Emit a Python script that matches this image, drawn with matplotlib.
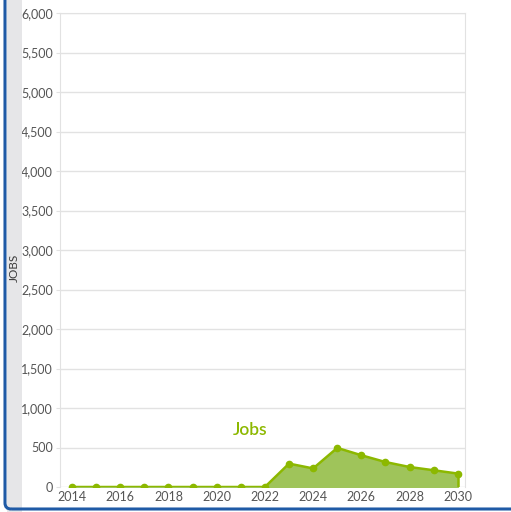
import matplotlib.pyplot as plt
from matplotlib.patches import FancyBboxPatch, Rectangle
from matplotlib.ticker import FuncFormatter

plt.rcParams['font.family'] = ['Lato', 'DejaVu Sans']

# data
years = [2014, 2015, 2016, 2017, 2018, 2019, 2020, 2021, 2022,
         2023, 2024, 2025, 2026, 2027, 2028, 2029, 2030]
jobs = [0, 0, 0, 0, 0, 0, 0, 0, 0,
        296, 235, 495, 402, 316, 253, 212, 170]
x_ticks = [2014, 2016, 2018, 2020, 2022, 2024, 2026, 2028, 2030]
y_ticks = list(range(0, 6001, 500))

green = '#8cb800'
fill_green = '#9fc45a'

fig = plt.figure(figsize=(5.11, 5.12), dpi=100)

# card frame and side band
W, H = 511, 512
fig.patches.append(Rectangle((7 / W, 0), 15 / W, 1, transform=fig.transFigure,
                             facecolor='#e6e6e8', edgecolor='none', zorder=0))
fig.patches.append(FancyBboxPatch((5 / W, 3 / H), 1.2, 1.2, transform=fig.transFigure,
                                  boxstyle='round,pad=0,rounding_size=0.012',
                                  facecolor='none', edgecolor='#1f5aa6', linewidth=2.2,
                                  zorder=1))
fig.text(14 / W, 244 / H, 'JOBS', rotation=90, ha='center', va='center',
         fontsize=8.5, color='#3a3a3a')

ax = fig.add_axes([60 / W, 25 / H, 405 / W, 474 / H])
ax.fill_between(years, jobs, 0, color=fill_green, zorder=2)
ax.plot(years, jobs, color=green, linewidth=1.8, marker='o', markersize=4.5, zorder=3)
ax.plot([years[-1], years[-1]], [0, jobs[-1]], color=green, linewidth=1.8, zorder=3)

ax.set_xlim(2013.5, 2030.3)
ax.set_ylim(0, 6000)
ax.set_xticks(x_ticks)
ax.set_yticks(y_ticks)
ax.yaxis.set_major_formatter(FuncFormatter(lambda v, p: f'{int(v):,}'))
ax.grid(axis='y', color='#e2e2e2', linewidth=1, zorder=0)
for s in ['left', 'right', 'top']:
    ax.spines[s].set_color('#e2e2e2')
ax.spines['bottom'].set_visible(False)
ax.tick_params(axis='y', length=3, color='#e2e2e2', labelsize=9, labelcolor='#555555', pad=2)
ax.tick_params(axis='x', length=0, labelsize=9, labelcolor='#555555', pad=3)

ax.text(2021.4, 720, 'Jobs', color=green, fontsize=12.5, fontweight='semibold',
        ha='center', va='center')

fig.savefig('out.png', dpi=100)
